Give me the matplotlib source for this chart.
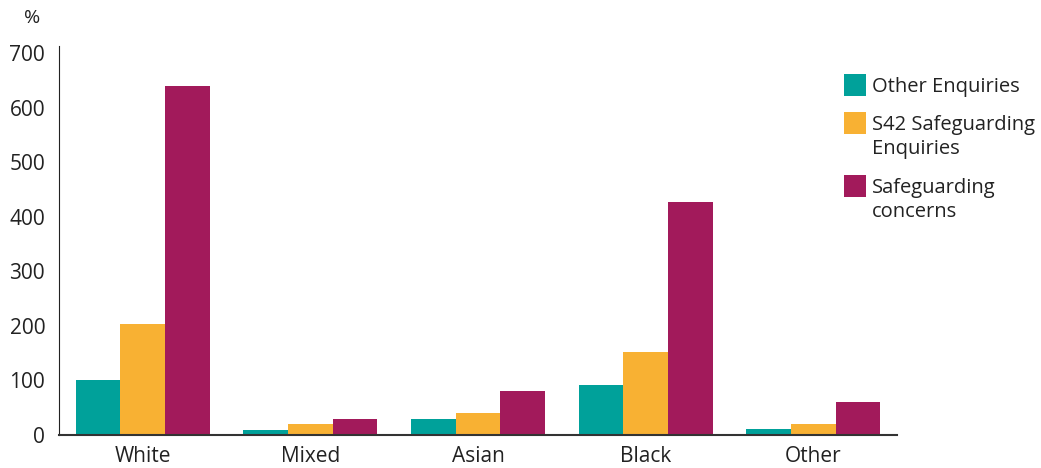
import matplotlib
matplotlib.use("Agg")
import matplotlib.pyplot as plt
from matplotlib.patches import Rectangle
import numpy as np

plt.rcParams["font.family"] = ["Open Sans", "DejaVu Sans"]

categories = ["White", "Mixed", "Asian", "Black", "Other"]
other_enquiries = [101, 9, 29, 92, 11]
s42_enquiries = [203, 20, 40, 152, 20]
safeguarding_concerns = [640, 29, 81, 427, 60]

series = [
    ("Other Enquiries", other_enquiries, "#00A19A"),
    ("S42 Safeguarding\nEnquiries", s42_enquiries, "#F8B133"),
    ("Safeguarding\nconcerns", safeguarding_concerns, "#A21A5B"),
]

W, H = 1041, 468
fig = plt.figure(figsize=(W / 100, H / 100), dpi=100)
ax = fig.add_axes([0.0567, 0.0705, 0.805, 0.8312])

xs = np.arange(len(categories))
w = 0.8 / 3
for i, (label, vals, col) in enumerate(series):
    ax.bar(xs + (i - 1) * w, vals, width=w, color=col, label=label)

ax.set_xlim(-0.5, len(categories) - 0.5)
ax.set_ylim(0, 713)
ax.set_yticks(range(0, 701, 100))
ax.set_xticks(xs)
ax.set_xticklabels(categories)
ax.tick_params(length=0, labelsize=15, colors="#222222")
ax.tick_params(axis="x", pad=8)
ax.tick_params(axis="y", pad=10)
for s in ["top", "right"]:
    ax.spines[s].set_visible(False)
ax.spines["left"].set_color("#222222")
ax.spines["bottom"].set_color("#333333")
ax.spines["bottom"].set_linewidth(1.5)

fig.text(32 / W, 1 - 18 / H, "%", fontsize=14, ha="center", va="center",
         color="#222222")

# legend drawn by hand: swatch lines up with the first text line
row_y = [85, 123, 186]   # pixel centre of each entry's first line
for (label, _, col), yc in zip(series, row_y):
    fig.add_artist(Rectangle((844 / W, 1 - (yc + 11) / H), 22 / W, 22 / H,
                             transform=fig.transFigure, facecolor=col,
                             edgecolor="none"))
    fig.text(872 / W, 1 - (yc - 8) / H, label, fontsize=14.5, ha="left",
             va="top", color="#222222", linespacing=1.25)

fig.savefig("out.png", dpi=100)
